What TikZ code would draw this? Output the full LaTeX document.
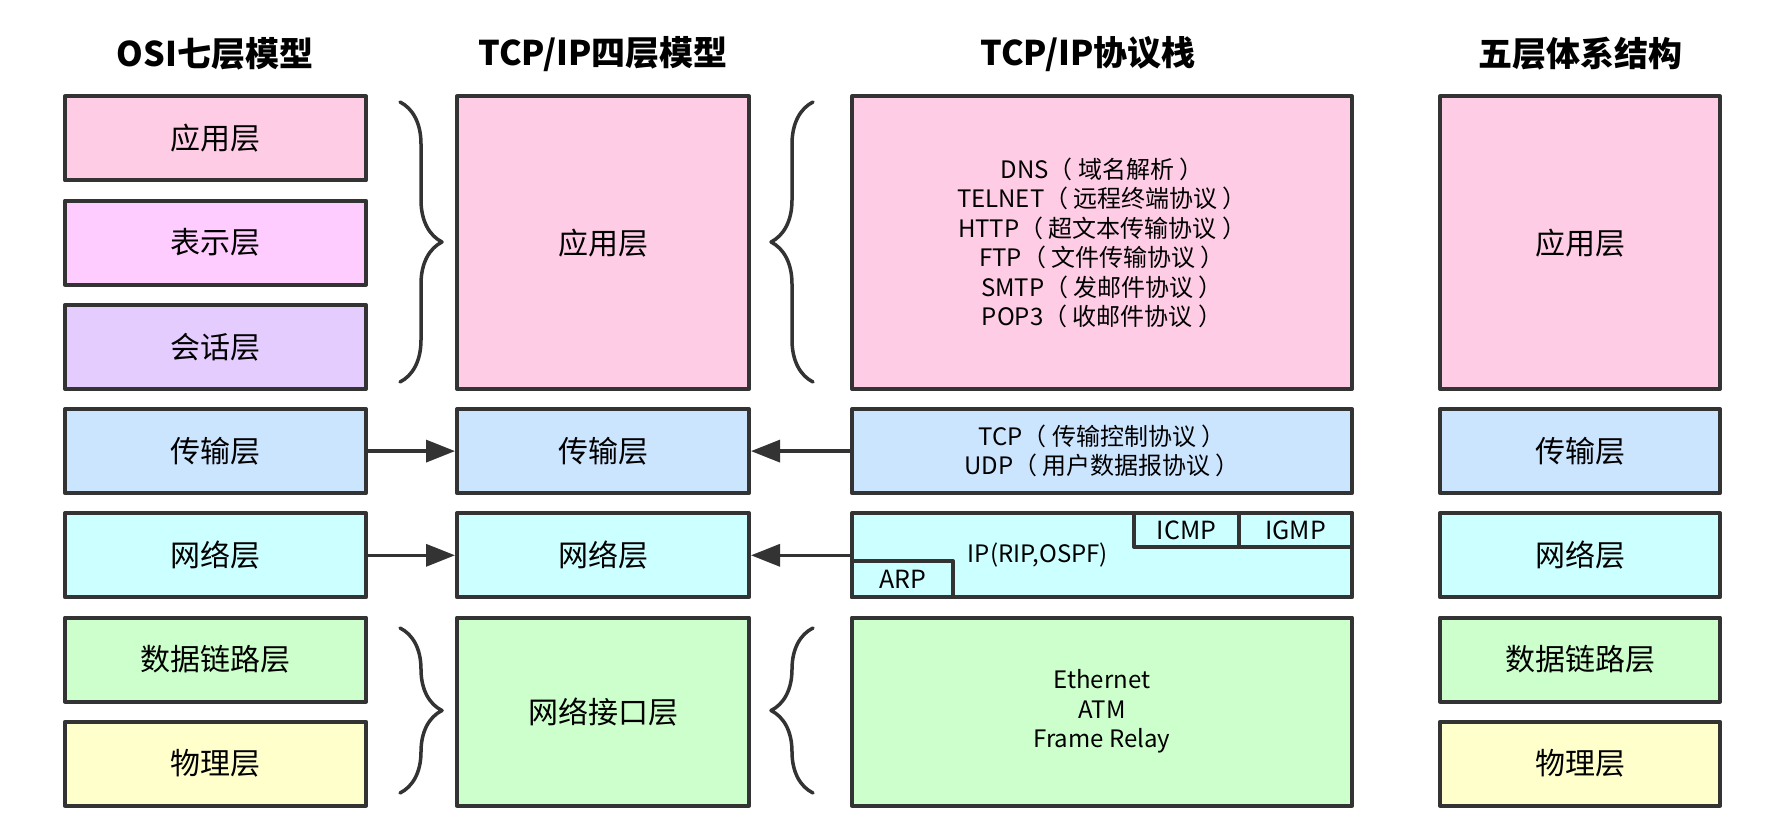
\documentclass[tikz,border=0pt]{standalone}
\usepackage{fontspec}
\setmainfont{Noto Sans CJK SC}
\usetikzlibrary{arrows.meta,decorations.pathreplacing}
\definecolor{bordc}{HTML}{333333}
\definecolor{cApp}{HTML}{FFCCE6}
\definecolor{cPre}{HTML}{FFCCFF}
\definecolor{cSes}{HTML}{E5CCFF}
\definecolor{cTra}{HTML}{CCE5FF}
\definecolor{cNet}{HTML}{CCFFFF}
\definecolor{cLnk}{HTML}{CCFFCC}
\definecolor{cPhy}{HTML}{FFFFCC}
% 全角括号两侧留空
\newcommand{\lpar}{（\hspace{.22em}}
\newcommand{\rpar}{\hspace{.22em}）}
\begin{document}
\begin{tikzpicture}[x=1pt,y=-1pt,line join=round,
	box/.style={draw=bordc,line width=4pt,inner sep=0pt,align=center,font=\fontsize{30}{36}\selectfont},
	proto/.style={align=center,inner sep=0pt,font=\fontsize{24}{29.5}\selectfont},
	ttl/.style={font=\fontsize{34}{40}\selectfont\bfseries},
	arr/.style={draw=bordc,line width=3.5pt,-{Triangle[length=29pt,width=22pt]}},
	brc/.style={draw=bordc,line width=3.5pt,line cap=round,decorate,decoration={brace,amplitude=42pt}}]
	\useasboundingbox (0,0) rectangle (1790,834);

	% 标题
	\node[ttl] (t1) at (215,54) {OSI七层模型};
	\node[ttl] (t2) at (603,54) {TCP/IP四层模型};
	\node[ttl] (t3) at (1088,54) {TCP/IP协议栈};
	\node[ttl] (t4) at (1580,54) {五层体系结构};

	% OSI七层
	\node[box,fill=cApp,minimum width=301pt,minimum height=84pt] (osiA) at (215.5,138.5) {应用层};
	\node[box,fill=cPre,minimum width=301pt,minimum height=84pt] (osiR) at (215.5,242.7) {表示层};
	\node[box,fill=cSes,minimum width=301pt,minimum height=84pt] (osiS) at (215.5,346.9) {会话层};
	\node[box,fill=cTra,minimum width=301pt,minimum height=84pt] (osiT) at (215.5,451.1) {传输层};
	\node[box,fill=cNet,minimum width=301pt,minimum height=84pt] (osiN) at (215.5,555.3) {网络层};
	\node[box,fill=cLnk,minimum width=301pt,minimum height=84pt] (osiD) at (215.5,659.5) {数据链路层};
	\node[box,fill=cPhy,minimum width=301pt,minimum height=84pt] (osiP) at (215.5,763.7) {物理层};

	% TCP/IP四层
	\node[box,fill=cApp,minimum width=292pt,minimum height=292.4pt] (tcpA) at (603,242.7) {应用层};
	\node[box,fill=cTra,minimum width=292pt,minimum height=84pt] (tcpT) at (603,451.1) {传输层};
	\node[box,fill=cNet,minimum width=292pt,minimum height=84pt] (tcpN) at (603,555.3) {网络层};
	\node[box,fill=cLnk,minimum width=292pt,minimum height=188.2pt] (tcpL) at (603,711.6) {网络接口层};

	% 协议栈
	\node[box,fill=cApp,minimum width=500pt,minimum height=292.4pt] (stkA) at (1102,242.7) {};
	\node[proto] (stkAt) at (stkA) {DNS\lpar 域名解析\rpar\\TELNET\lpar 远程终端协议\rpar\\HTTP\lpar 超文本传输协议\rpar\\FTP\lpar 文件传输协议\rpar\\SMTP\lpar 发邮件协议\rpar\\POP3\lpar 收邮件协议\rpar};
	\node[box,fill=cTra,minimum width=500pt,minimum height=84pt] (stkT) at (1102,451.1) {};
	\node[proto] (stkTt) at (stkT) {TCP\lpar 传输控制协议\rpar\\UDP\lpar 用户数据报协议\rpar};
	\node[box,fill=cNet,minimum width=500pt,minimum height=84pt] (stkN) at (1102,555.3) {};
	\node[proto] (ipT) at (1038,555) {IP(RIP,OSPF)};
	\node[box,fill=cNet,minimum width=105pt,minimum height=33.7pt,font=\fontsize{25}{28}\selectfont] (icmp) at (1186.5,530.2) {ICMP};
	\node[box,fill=cNet,minimum width=113pt,minimum height=33.7pt,font=\fontsize{25}{28}\selectfont] (igmp) at (1295.5,530.2) {IGMP};
	\node[box,fill=cNet,minimum width=101pt,minimum height=36.3pt,font=\fontsize{25}{28}\selectfont] (arp) at (902.5,579.2) {ARP};
	\node[box,fill=cLnk,minimum width=500pt,minimum height=188.2pt] (stkL) at (1102,711.6) {};
	\node[proto] (stkLt) at (stkL) {Ethernet\\ATM\\Frame Relay};

	% 五层
	\node[box,fill=cApp,minimum width=280pt,minimum height=292.4pt] (fivA) at (1580,242.7) {应用层};
	\node[box,fill=cTra,minimum width=280pt,minimum height=84pt] (fivT) at (1580,451.1) {传输层};
	\node[box,fill=cNet,minimum width=280pt,minimum height=84pt] (fivN) at (1580,555.3) {网络层};
	\node[box,fill=cLnk,minimum width=280pt,minimum height=84pt] (fivD) at (1580,659.5) {数据链路层};
	\node[box,fill=cPhy,minimum width=280pt,minimum height=84pt] (fivP) at (1580,763.7) {物理层};

	% 大括号
	\coordinate (b1s) at (400,102);
	\coordinate (b1e) at (400,382);
	\coordinate (b2s) at (813,382);
	\coordinate (b2e) at (813,102);
	\coordinate (b3s) at (400,628);
	\coordinate (b3e) at (400,793);
	\coordinate (b4s) at (813,793);
	\coordinate (b4e) at (813,628);
	\draw[brc] (b1s) -- (b1e);
	\draw[brc] (b2s) -- (b2e);
	\draw[brc] (b3s) -- (b3e);
	\draw[brc] (b4s) -- (b4e);

	% 箭头
	\draw[arr] (osiT.east) -- (tcpT.west);
	\draw[arr] (stkT.west) -- (tcpT.east);
	\draw[arr] (osiN.east) -- (tcpN.west);
	\draw[arr] (stkN.west) -- (tcpN.east);
\end{tikzpicture}
\end{document}
